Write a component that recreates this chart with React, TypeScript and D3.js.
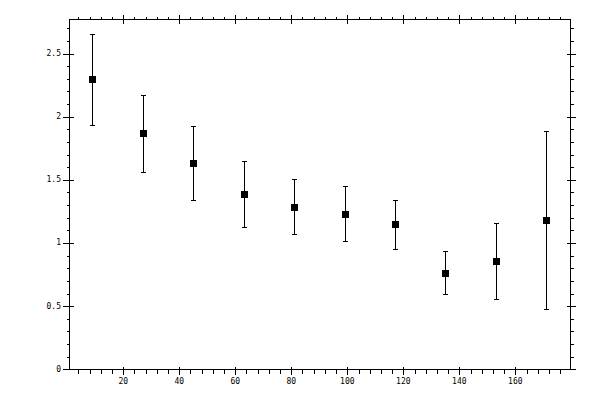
import { useMemo } from "react";
import * as d3 from "d3";

// bin centres and measured means with their error bounds
const xs = [9, 27, 45, 63, 81, 99, 117, 135, 153, 171];
const means = [2.296, 1.869, 1.631, 1.386, 1.283, 1.227, 1.148, 0.76, 0.855, 1.18];
const lows = [1.932, 1.56, 1.338, 1.124, 1.069, 1.016, 0.95, 0.594, 0.557, 0.475];
const highs = [2.657, 2.174, 1.924, 1.647, 1.504, 1.449, 1.343, 0.934, 1.156, 1.884];

const xMajor = [20, 40, 60, 80, 100, 120, 140, 160];
const yMajor = [0, 0.5, 1, 1.5, 2, 2.5];
const yLabels = ["0", "0.5", "1", "1.5", "2", "2.5"];

const width = 600;
const height = 400;
const left = 69.5;
const right = 570.5;
const top = 19.5;
const bottom = 369.5;

const App = () => {
  const x = useMemo(() => d3.scaleLinear().domain([0.8, 179.7]).range([left, right]), []);
  const y = useMemo(() => d3.scaleLinear().domain([0, 2.771]).range([369.3, 19.3]), []);

  const xMinor = d3.range(4, 179, 4).filter((v) => v % 20 !== 0);
  const yMinor = d3.range(0, 28).map((i) => i / 10).filter((_, i) => i % 5 !== 0);

  const font = "'DejaVu Sans Mono', monospace";
  const cap = 2;
  const px = (v: number) => Math.round(x(v)) + 0.5;
  const py = (v: number) => Math.round(y(v)) + 0.5;

  return (
    <svg
      width={width}
      height={height}
      style={{ position: "absolute", left: 0, top: 0, background: "#fff" }}
      shapeRendering="crispEdges"
    >
      <rect x={0} y={0} width={width} height={height} fill="#fff" />
      <g stroke="#000" strokeWidth={1} fill="none">
        <rect x={left} y={top} width={right - left} height={bottom - top} />
        {/* x minor ticks, bottom and top */}
        {xMinor.map((v) => (
          <g key={"xm" + v}>
            <line x1={px(v)} x2={px(v)} y1={bottom} y2={bottom + 4} />
            <line x1={px(v)} x2={px(v)} y1={top} y2={top - 3} />
          </g>
        ))}
        {xMajor.map((v) => (
          <g key={"xM" + v}>
            <line x1={px(v)} x2={px(v)} y1={bottom - 3} y2={bottom + 5} />
            <line x1={px(v)} x2={px(v)} y1={top + 4} y2={top - 5} />
          </g>
        ))}
        {yMinor.map((v) => (
          <g key={"ym" + v}>
            <line x1={left - 3} x2={left} y1={py(v)} y2={py(v)} />
            <line x1={right} x2={right + 3} y1={py(v)} y2={py(v)} />
          </g>
        ))}
        {yMajor.map((v) => (
          <g key={"yM" + v}>
            <line x1={left - 7} x2={left + 4} y1={py(v)} y2={py(v)} />
            <line x1={right - 4} x2={right + 5} y1={py(v)} y2={py(v)} />
          </g>
        ))}
        {/* error bars */}
        {xs.map((v, i) => {
          const cx = px(v);
          const y1 = py(highs[i]);
          const y2 = py(lows[i]);
          return (
            <g key={"e" + i}>
              <line x1={cx} x2={cx} y1={y1} y2={y2} />
              <line x1={cx - cap - 0.5} x2={cx + cap + 0.5} y1={y1} y2={y1} />
              <line x1={cx - cap - 0.5} x2={cx + cap + 0.5} y1={y2} y2={y2} />
            </g>
          );
        })}
      </g>
      {xs.map((v, i) => (
        <rect
          key={"p" + i}
          x={Math.round(x(v)) - 3}
          y={Math.round(y(means[i])) - 3}
          width={7}
          height={7}
          fill="#000"
        />
      ))}
      <g fontFamily={font} fontSize={8} fill="#000">
        {yMajor.map((v, i) => (
          <text key={"yl" + v} x={61} y={y(v)} textAnchor="end" dominantBaseline="central">
            {yLabels[i]}
          </text>
        ))}
        {xMajor.map((v) => (
          <text key={"xl" + v} x={x(v)} y={381} textAnchor="middle" dominantBaseline="central">
            {v}
          </text>
        ))}
      </g>
    </svg>
  );
};

export default App;
